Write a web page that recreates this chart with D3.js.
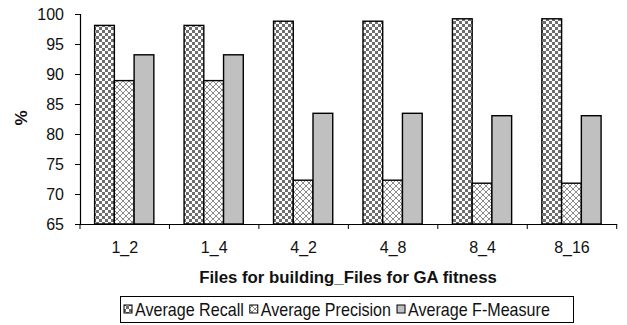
<!DOCTYPE html>
<html>
<head>
<meta charset="utf-8">
<script src="https://cdn.jsdelivr.net/npm/d3@7"></script>
<style>
  html, body { margin: 0; padding: 0; background: #fff; }
  svg { display: block; font-family: "Liberation Sans", Arial, sans-serif; }
</style>
</head>
<body>
<svg id="chart" width="627" height="325"></svg>
<script>
// Category labels and series values (percent)
const categories = ["1_2", "1_4", "4_2", "4_8", "8_4", "8_16"];
const recall     = [98.1, 98.1, 98.8, 98.8, 99.2, 99.2];
const precision  = [88.9, 88.9, 72.3, 72.3, 71.8, 71.8];
const fMeasure   = [93.2, 93.2, 83.45, 83.45, 83.05, 83.05];
const seriesNames = ["Average Recall", "Average Precision", "Average F-Measure"];
const yTicks = [65, 70, 75, 80, 85, 90, 95, 100];

const series = [recall, precision, fMeasure];
const fills = ["url(#checker)", "url(#lattice)", "#c0c0c0"];

const svg = d3.select("#chart");
const margin = { left: 80, top: 14 };

// Fill patterns
const defs = svg.append("defs");
const checker = defs.append("pattern").attr("id", "checker")
  .attr("patternUnits", "userSpaceOnUse").attr("width", 6).attr("height", 6);
checker.append("rect").attr("width", 6).attr("height", 6).attr("fill", "#fff");
checker.append("rect").attr("width", 3).attr("height", 3).attr("fill", "#6e6e6e");
checker.append("rect").attr("x", 3).attr("y", 3).attr("width", 3).attr("height", 3).attr("fill", "#6e6e6e");

const lattice = defs.append("pattern").attr("id", "lattice")
  .attr("patternUnits", "userSpaceOnUse").attr("width", 6).attr("height", 6);
lattice.append("rect").attr("width", 6).attr("height", 6).attr("fill", "#fff");
lattice.append("path").attr("d", "M0,0L6,6M6,0L0,6M-1,5L1,7M5,-1L7,1M-1,1L1,-1M5,7L7,5")
  .attr("stroke", "#8a8a8a").attr("stroke-width", 1).attr("fill", "none");

const x = d3.scaleBand().domain(categories).range([margin.left, 616.7]).padding(0);
const xInner = d3.scaleBand().domain(d3.range(series.length))
  .range([x.bandwidth() * 0.1635, x.bandwidth() * 0.8255]).padding(0);
const y = d3.scaleLinear().domain([65, 100]).range([224, margin.top]);

// Bars
categories.forEach((cat, i) => {
  series.forEach((vals, s) => {
    svg.append("rect")
      .attr("x", x(cat) + xInner(s))
      .attr("y", y(vals[i]))
      .attr("width", xInner.bandwidth())
      .attr("height", y(65) - y(vals[i]))
      .attr("fill", fills[s])
      .attr("stroke", "#000")
      .attr("stroke-width", 1.4);
  });
});

// Y axis
const yAxis = svg.append("g").attr("transform", `translate(${margin.left},0)`)
  .call(d3.axisLeft(y).tickValues(yTicks).tickSize(5).tickPadding(11).tickFormat(d3.format("d")));
yAxis.selectAll("text").attr("font-size", 16).attr("fill", "#111")
  .attr("font-family", "'Liberation Sans', Arial, sans-serif");

// X axis with ticks at category boundaries
const xAxis = svg.append("g").attr("transform", `translate(0,224)`)
  .call(d3.axisBottom(x).tickSize(0).tickPadding(18));
xAxis.selectAll("text").attr("font-size", 16).attr("fill", "#111")
  .attr("font-family", "'Liberation Sans', Arial, sans-serif");
const bounds = categories.map(c => x(c)).concat([x(categories[categories.length - 1]) + x.bandwidth()]);
xAxis.selectAll(".bound").data(bounds).join("line").attr("class", "bound")
  .attr("x1", d => d).attr("x2", d => d).attr("y1", 0).attr("y2", 5)
  .attr("stroke", "#000");

svg.selectAll(".domain").attr("stroke", "#000").attr("stroke-width", 1.2);
svg.selectAll(".tick line").attr("stroke", "#000");

// Axis titles
svg.append("text").attr("transform", "translate(27,118) rotate(-90)")
  .attr("text-anchor", "middle").attr("font-weight", "bold").attr("font-size", 17)
  .attr("fill", "#111").text("%");
svg.append("text").attr("x", 348).attr("y", 283)
  .attr("text-anchor", "middle").attr("font-weight", "bold").attr("font-size", 16.8)
  .attr("fill", "#111").text("Files for building_Files for GA fitness");

// Legend (text slightly condensed horizontally)
const legend = svg.append("g");
legend.append("rect").attr("x", 120.5).attr("y", 296.5).attr("width", 453).attr("height", 26)
  .attr("fill", "#fff").attr("stroke", "#000");
const squeeze = 0.92;
let lx = 124;
seriesNames.forEach((name, s) => {
  legend.append("rect").attr("x", lx).attr("y", 305).attr("width", 8).attr("height", 8)
    .attr("fill", fills[s]).attr("stroke", "#000").attr("stroke-width", 1);
  const t = legend.append("text")
    .attr("transform", `translate(${lx + 11},315.5) scale(${squeeze},1)`)
    .attr("font-size", 17.5).attr("fill", "#111").text(name);
  lx += 11 + t.node().getComputedTextLength() * squeeze + 6;
});
</script>
</body>
</html>
